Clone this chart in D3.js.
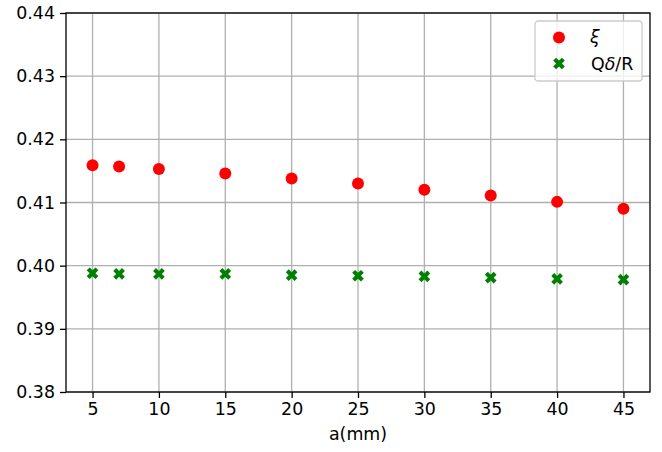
<!DOCTYPE html>
<html>
<head>
<meta charset="utf-8">
<script src="https://cdn.jsdelivr.net/npm/d3@7"></script>
<style>
  body { margin: 0; background: #fff; }
  svg { font-family: "DejaVu Sans", sans-serif; }
</style>
</head>
<body>
<div id="chart"></div>
<script>
// values
var aValues = [5, 7, 10, 15, 20, 25, 30, 35, 40, 45];
var xiValues = [0.4159, 0.4157, 0.4153, 0.4146, 0.4138, 0.4130, 0.4120, 0.4111, 0.4101, 0.4090];
var qValues = [0.3988, 0.3987, 0.3987, 0.3987, 0.3985, 0.3984, 0.3983, 0.3981, 0.3979, 0.3978];
var xTicks = [5, 10, 15, 20, 25, 30, 35, 40, 45];
var yTicks = [0.38, 0.39, 0.40, 0.41, 0.42, 0.43, 0.44];

var width = 662, height = 452;
var margin = {left: 66, right: 12, top: 13, bottom: 60};
var fs = 17.4;

var svg = d3.select("#chart").append("svg")
    .attr("width", width)
    .attr("height", height);

var x = d3.scaleLinear().domain([3, 47]).range([margin.left, width - margin.right]);
var y = d3.scaleLinear().domain([0.38, 0.44]).range([height - margin.bottom, margin.top]);

// grid
svg.append("g")
    .selectAll("line")
    .data(xTicks)
    .join("line")
    .attr("x1", d => x(d)).attr("x2", d => x(d))
    .attr("y1", y(0.38)).attr("y2", y(0.44))
    .attr("stroke", "#b0b0b0").attr("stroke-width", 1.3);
svg.append("g")
    .selectAll("line")
    .data(yTicks)
    .join("line")
    .attr("x1", x(3)).attr("x2", x(47))
    .attr("y1", d => y(d)).attr("y2", d => y(d))
    .attr("stroke", "#b0b0b0").attr("stroke-width", 1.3);

// axes
var xAxis = svg.append("g")
    .attr("transform", `translate(0,${y(0.38)})`)
    .call(d3.axisBottom(x).tickValues(xTicks).tickSize(6).tickPadding(5).tickFormat(d3.format("d")));
var yAxis = svg.append("g")
    .attr("transform", `translate(${x(3)},0)`)
    .call(d3.axisLeft(y).tickValues(yTicks).tickSize(6).tickPadding(5).tickFormat(d3.format(".2f")));
[xAxis, yAxis].forEach(g => {
    g.select(".domain").remove();
    g.selectAll("text").attr("font-size", fs).attr("fill", "#000").attr("font-family", "DejaVu Sans");
    g.selectAll("line").attr("stroke", "#000").attr("stroke-width", 1.3);
});

// frame
svg.append("rect")
    .attr("x", x(3)).attr("y", y(0.44))
    .attr("width", x(47) - x(3)).attr("height", y(0.38) - y(0.44))
    .attr("fill", "none").attr("stroke", "#000").attr("stroke-width", 1.3);

svg.append("text")
    .attr("x", (x(3) + x(47)) / 2).attr("y", 440)
    .attr("text-anchor", "middle").attr("font-size", fs)
    .text("a(mm)");

// markers
var xMark = d3.symbol().type(d3.symbolCross).size(85);

svg.append("g")
    .selectAll("circle")
    .data(aValues.map((a, i) => ({a, v: xiValues[i]})))
    .join("circle")
    .attr("cx", d => x(d.a)).attr("cy", d => y(d.v))
    .attr("r", 6).attr("fill", "#ff0000");

svg.append("g")
    .selectAll("path")
    .data(aValues.map((a, i) => ({a, v: qValues[i]})))
    .join("path")
    .attr("d", xMark)
    .attr("transform", d => `translate(${x(d.a)},${y(d.v)}) rotate(45)`)
    .attr("fill", "#008000");

// legend
var legend = svg.append("g").attr("transform", "translate(535,21)");
legend.append("rect")
    .attr("width", 107).attr("height", 60).attr("rx", 3)
    .attr("fill", "#fff").attr("fill-opacity", 0.8)
    .attr("stroke", "#cccccc").attr("stroke-width", 1.3);
legend.append("circle").attr("cx", 24).attr("cy", 16.5).attr("r", 6).attr("fill", "#ff0000");
legend.append("path").attr("d", xMark)
    .attr("transform", "translate(24,42.5) rotate(45)").attr("fill", "#008000");
legend.append("text").attr("x", 55).attr("y", 22).attr("font-size", fs)
    .attr("font-style", "italic").text("ξ");
var t2 = legend.append("text").attr("x", 56).attr("y", 48.5).attr("font-size", fs);
t2.append("tspan").text("Q");
t2.append("tspan").attr("font-style", "italic").text("δ");
t2.append("tspan").text("/R");
</script>
</body>
</html>
